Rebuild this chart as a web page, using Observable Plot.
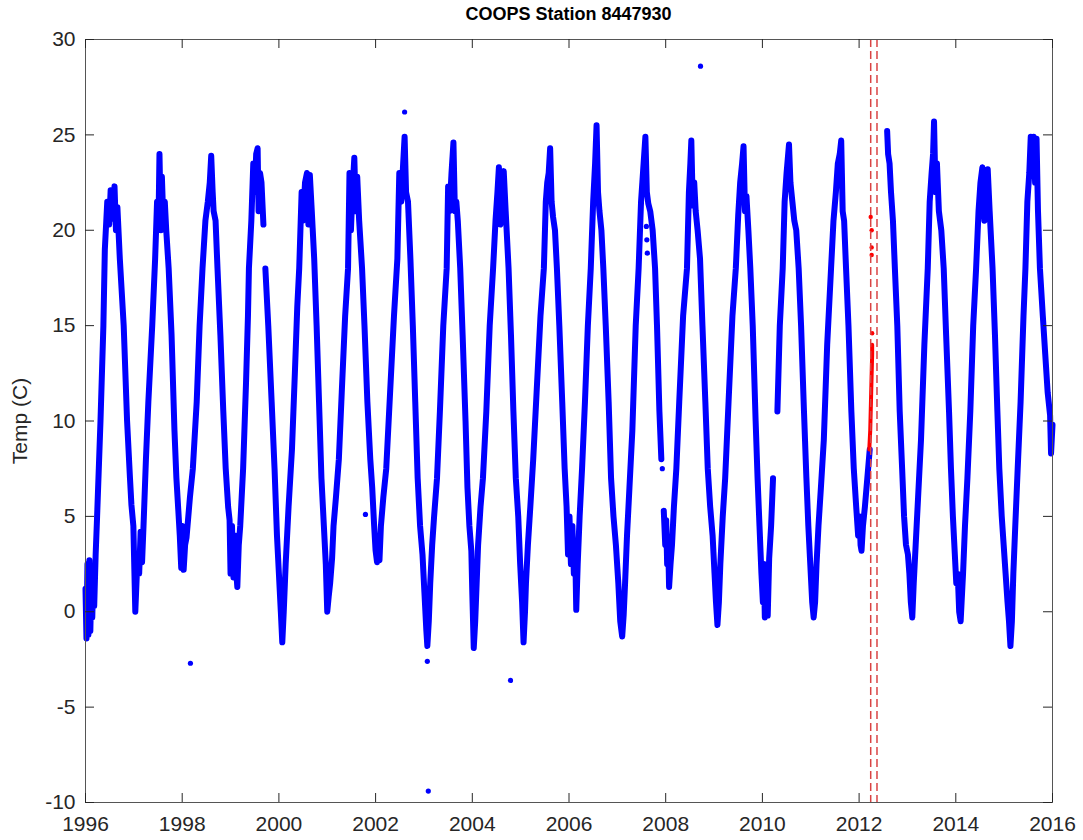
<!DOCTYPE html>
<html><head><meta charset="utf-8">
<script src="https://cdn.jsdelivr.net/npm/d3@7"></script>
<script src="https://cdn.jsdelivr.net/npm/@observablehq/plot@0.6"></script>
<style>
body{margin:0;background:#fff;font-family:"Liberation Sans",Arial,sans-serif;}
#title{width:1083px;box-sizing:border-box;padding-left:85px;padding-right:31px;height:30px;text-align:center;font-weight:bold;font-size:18px;line-height:28px;color:#000;}
</style></head><body>
<div id="title">COOPS Station 8447930</div>
<div id="chart"></div>
<script>
// Hourly water temperature readings (decimal year, °C); null = data gap
const blueReadings = [
[1996.00,1.2],[1996.02,-1.4],[1996.04,2.5],[1996.06,-1.2],[1996.08,2.7],[1996.10,-1.0],[1996.12,1.5],[1996.14,-0.3],[1996.16,1.8],[1996.18,0.3],[1996.21,3.0],[1996.24,5.0],[1996.31,10.0],[1996.37,15.0],
[1996.40,19.0],[1996.45,21.5],[1996.49,20.3],[1996.52,22.1],[1996.56,20.6],[1996.60,22.3],[1996.63,20.0],[1996.66,21.2],[1996.71,18.5],
[1996.79,15.0],[1996.86,10.0],[1996.92,7.0],[1996.95,5.6],[1996.99,4.5],[1997.03,0.0],[1997.07,2.5],[1997.11,2.0],[1997.14,4.2],[1997.17,2.6],[1997.20,4.5],[1997.25,8.0],[1997.30,11.0],[1997.38,15.0],
[1997.44,18.5],[1997.48,21.5],[1997.51,20.5],[1997.53,24.0],[1997.56,20.0],[1997.58,22.8],[1997.61,20.5],[1997.64,21.5],[1997.67,20.0],[1997.72,18.0],
[1997.78,14.5],[1997.84,9.5],[1997.88,7.0],[1997.92,5.3],[1997.95,4.0],[1997.98,2.3],[1998.00,4.5],[1998.03,2.2],[1998.06,3.5],[1998.09,3.9],[1998.12,4.8],[1998.16,6.0],[1998.22,7.5],[1998.30,11.0],[1998.36,15.0],
[1998.42,18.0],[1998.48,20.5],[1998.53,21.5],[1998.57,22.5],[1998.60,23.9],[1998.63,22.0],[1998.65,21.0],[1998.69,20.5],[1998.73,18.0],
[1998.79,14.5],[1998.85,10.5],[1998.90,7.5],[1998.95,5.5],[1998.98,4.8],[1999.00,2.0],[1999.03,4.5],[1999.06,1.8],[1999.09,4.0],[1999.12,2.0],[1999.14,1.3],[1999.17,3.5],[1999.20,4.5],[1999.26,7.5],[1999.32,12.0],[1999.36,15.5],
[1999.38,18.0],[1999.43,20.5],[1999.47,23.5],[1999.50,22.0],[1999.53,24.0],[1999.56,24.3],[1999.58,21.0],[1999.61,23.0],[1999.64,22.5],[1999.68,20.3],null,[1999.72,18.0],
[1999.78,15.0],[1999.85,11.0],[1999.91,7.5],[1999.96,4.0],[2000.00,2.0],[2000.04,0.0],[2000.07,-1.6],[2000.10,0.0],[2000.14,2.5],[2000.20,5.5],[2000.27,8.5],[2000.33,12.5],[2000.38,16.0],
[2000.42,18.0],[2000.47,22.0],[2000.50,20.5],[2000.54,22.5],[2000.58,23.0],[2000.61,20.3],[2000.64,22.9],[2000.68,21.0],[2000.73,18.5],
[2000.78,15.0],[2000.83,11.0],[2000.88,7.0],[2000.93,4.5],[2000.97,2.5],[2001.00,0.0],[2001.03,0.8],[2001.06,1.5],[2001.10,2.8],[2001.13,4.5],[2001.18,6.0],[2001.24,8.0],[2001.30,11.5],[2001.37,15.5],
[2001.43,18.0],[2001.46,23.0],[2001.49,20.0],[2001.52,22.0],[2001.56,23.8],[2001.59,21.0],[2001.62,22.8],[2001.66,20.5],[2001.72,18.0],
[2001.77,15.0],[2001.83,11.0],[2001.89,8.0],[2001.93,6.5],[2001.97,4.5],[2002.00,3.2],[2002.03,2.6],[2002.06,3.5],[2002.08,2.7],[2002.11,4.5],[2002.16,6.0],[2002.22,7.5],[2002.30,11.5],[2002.38,15.5],
[2002.45,18.5],[2002.49,23.0],[2002.53,21.5],[2002.57,23.5],[2002.60,24.9],[2002.63,22.0],[2002.67,21.5],[2002.72,18.5],
[2002.77,15.0],[2002.82,11.0],[2002.87,7.0],[2002.92,4.5],[2002.97,3.0],[2003.01,1.0],[2003.05,-1.0],[2003.07,-1.8],[2003.10,-0.5],[2003.13,1.5],[2003.17,3.5],[2003.21,5.0],[2003.27,7.0],[2003.33,10.5],[2003.40,15.0],
[2003.47,18.0],[2003.50,22.3],[2003.53,21.0],[2003.57,23.0],[2003.61,24.6],[2003.64,21.0],[2003.67,21.5],[2003.70,20.5],[2003.75,18.0],
[2003.80,14.5],[2003.86,10.0],[2003.90,6.5],[2003.94,4.5],[2003.98,3.2],[2004.00,1.0],[2004.03,-1.9],[2004.06,-0.5],[2004.09,1.5],[2004.12,3.5],[2004.17,5.5],[2004.22,7.0],[2004.29,10.5],[2004.36,15.0],
[2004.43,18.0],[2004.48,20.5],[2004.52,22.0],[2004.55,23.3],[2004.58,20.3],[2004.62,22.5],[2004.65,23.1],[2004.69,21.0],[2004.75,18.0],
[2004.80,14.5],[2004.85,10.5],[2004.90,7.0],[2004.95,5.0],[2004.99,2.5],[2005.03,0.5],[2005.06,-1.6],[2005.09,0.0],[2005.11,1.5],[2005.15,3.5],[2005.20,5.5],[2005.26,8.0],[2005.33,11.5],[2005.41,15.5],
[2005.48,18.0],[2005.52,21.5],[2005.55,22.5],[2005.58,23.0],[2005.61,24.3],[2005.64,21.5],[2005.67,20.7],[2005.71,20.0],[2005.75,18.0],
[2005.80,15.0],[2005.86,11.0],[2005.91,7.5],[2005.95,5.5],[2005.98,3.0],[2006.01,5.0],[2006.04,2.5],[2006.07,4.5],[2006.10,2.0],[2006.13,3.0],[2006.15,0.1],[2006.18,2.5],[2006.22,5.0],[2006.27,7.5],[2006.33,11.0],[2006.39,15.0],
[2006.45,18.0],[2006.50,21.5],[2006.54,23.5],[2006.57,25.5],[2006.60,22.0],[2006.63,21.0],[2006.67,20.0],[2006.71,18.0],
[2006.76,15.0],[2006.82,11.0],[2006.87,7.0],[2006.92,5.0],[2006.97,3.5],[2007.02,1.5],[2007.06,-0.5],[2007.10,-1.3],[2007.13,-0.2],[2007.16,1.5],[2007.20,4.0],[2007.25,6.5],[2007.31,9.5],[2007.38,15.0],
[2007.44,18.0],[2007.49,21.5],[2007.53,23.0],[2007.58,24.9],[2007.61,22.0],[2007.64,21.4],[2007.68,21.0],[2007.73,20.0],[2007.78,18.0],
[2007.82,15.0],[2007.87,10.5],[2007.91,8.0],null,[2007.96,5.3],[2007.99,3.5],[2008.01,4.8],[2008.03,2.5],[2008.05,3.8],[2008.07,1.3],[2008.10,2.5],[2008.13,3.5],[2008.17,5.5],[2008.22,7.5],[2008.28,11.0],[2008.36,15.5],
[2008.44,18.0],[2008.48,22.0],[2008.51,23.5],[2008.53,24.7],[2008.56,21.3],[2008.59,22.5],[2008.62,21.0],[2008.66,20.0],[2008.71,18.5],
[2008.76,15.0],[2008.82,11.0],[2008.87,7.5],[2008.92,5.5],[2008.97,4.0],[2009.01,2.0],[2009.04,0.5],[2009.07,-0.7],[2009.10,0.5],[2009.13,2.5],[2009.18,5.0],[2009.23,7.0],[2009.30,11.0],[2009.38,15.5],
[2009.45,18.0],[2009.50,20.8],[2009.54,22.5],[2009.58,23.5],[2009.61,24.4],[2009.64,21.0],[2009.67,21.8],[2009.71,20.0],[2009.75,18.0],
[2009.80,15.0],[2009.86,10.0],[2009.90,7.0],[2009.94,4.5],[2009.98,2.0],[2010.01,0.5],[2010.03,2.5],[2010.05,-0.3],[2010.08,1.5],[2010.11,-0.2],[2010.14,2.8],[2010.18,4.5],[2010.22,7.0],null,[2010.31,10.5],[2010.36,15.0],
[2010.42,18.0],[2010.46,21.5],[2010.50,23.0],[2010.55,24.5],[2010.58,22.5],[2010.62,21.5],[2010.66,20.5],[2010.70,20.0],[2010.75,18.0],
[2010.80,15.0],[2010.86,10.5],[2010.91,7.0],[2010.95,4.5],[2010.99,2.5],[2011.03,0.5],[2011.06,-0.3],[2011.09,0.5],[2011.12,2.5],[2011.16,4.5],[2011.21,6.5],[2011.27,9.0],[2011.34,14.0],
[2011.42,18.0],[2011.47,20.5],[2011.52,22.0],[2011.56,23.5],[2011.60,24.0],[2011.63,24.7],[2011.66,21.0],[2011.69,20.5],[2011.73,18.0],
[2011.78,15.0],[2011.84,10.5],[2011.89,7.5],[2011.94,5.5],[2011.98,4.0],[2012.01,5.0],[2012.03,3.5],[2012.05,3.2],[2012.08,4.5],[2012.12,5.5],[2012.17,7.0],[2012.22,8.5],null,
[2012.58,25.2],[2012.60,24.0],[2012.63,23.5],[2012.66,22.0],[2012.70,20.5],[2012.74,18.0],[2012.79,15.0],[2012.84,10.5],[2012.89,7.5],[2012.93,5.0],[2012.97,3.5],[2013.01,3.0],[2013.04,2.0],[2013.07,0.5],[2013.10,-0.3],[2013.13,1.5],[2013.17,3.5],[2013.22,6.0],[2013.28,9.0],[2013.35,14.0],
[2013.42,18.0],[2013.46,21.5],[2013.50,23.0],[2013.53,24.0],[2013.55,25.7],[2013.58,22.0],[2013.61,23.5],[2013.65,21.0],[2013.70,20.0],[2013.75,18.0],
[2013.80,14.5],[2013.86,10.5],[2013.90,7.5],[2013.94,5.0],[2013.98,3.0],[2014.01,1.5],[2014.04,2.0],[2014.07,0.0],[2014.10,-0.5],[2014.12,0.5],[2014.15,2.0],[2014.19,4.5],[2014.24,7.0],[2014.30,10.5],[2014.36,15.0],
[2014.42,18.0],[2014.47,21.0],[2014.51,22.5],[2014.55,23.3],[2014.59,20.5],[2014.62,21.5],[2014.66,23.2],[2014.70,21.0],[2014.76,18.0],
[2014.81,14.5],[2014.86,10.5],[2014.90,7.5],[2014.95,5.0],[2014.99,3.5],[2015.03,2.0],[2015.07,0.5],[2015.10,-0.5],[2015.13,-1.8],[2015.16,-0.5],[2015.19,2.0],[2015.23,4.5],[2015.28,7.5],[2015.34,11.0],[2015.40,15.5],
[2015.44,18.0],[2015.48,21.5],[2015.52,23.0],[2015.55,24.9],[2015.58,23.0],[2015.61,24.9],[2015.64,22.5],[2015.67,24.8],[2015.70,21.0],[2015.74,18.0],
[2015.80,15.5],[2015.85,13.5],[2015.90,11.5],[2015.95,10.3],[2015.97,8.3],[2016.00,9.8]
];
// Isolated blue readings (spikes / stray points)
const blueOutliers = [[1998.17,-2.7],[2001.79,5.1],[2002.60,26.2],[2003.07,-2.6],[2003.09,-9.4],[2004.79,-3.6],[2007.60,20.2],[2007.61,19.5],[2007.62,18.8],[2007.93,7.5],[2008.72,28.6]];
// Flagged (red) readings inside the marked window
const redReadings = [[2012.21,8.5],[2012.23,9.5],[2012.24,10.5],[2012.25,11.5],[2012.26,12.5],[2012.27,13.5],[2012.27,14.0]];
const redDots = [[2012.27,14.6],[2012.24,20.7],[2012.26,20.0],[2012.26,19.1],[2012.26,18.7]];
// Window boundaries (dashed lines)
const flagLines = [2012.24, 2012.37];
const xTicks = [1996,1998,2000,2002,2004,2006,2008,2010,2012,2014,2016];
const yTicks = [-10,-5,0,5,10,15,20,25,30];

const toRows = arr => arr.map(p => p ? {year: p[0], temp: p[1]} : {year: NaN, temp: NaN});
const blue = toRows(blueReadings), red = toRows(redReadings);
const outl = toRows(blueOutliers), rdots = toRows(redDots);

const W = 1083, H = 810, mt = 9, mb = 38, ml = 85, mr = 31;
const innerW = W - ml - mr, innerH = H - mt - mb, tickLen = 9;
const axisColor = "#262626";

const chart = Plot.plot({
  width: W, height: H, marginTop: mt, marginBottom: mb, marginLeft: ml, marginRight: mr,
  style: {fontFamily: "'Liberation Sans', Arial, sans-serif", fontSize: "21px", color: axisColor, background: "#fff", overflow: "visible"},
  x: {domain: [1996, 2016]},
  y: {domain: [-10, 30]},
  marks: [
    Plot.line(blue, {x: "year", y: "temp", stroke: "#0000ff", strokeWidth: 6, strokeLinejoin: "round", strokeLinecap: "round"}),
    Plot.dot(outl, {x: "year", y: "temp", fill: "#0000ff", r: 2.6}),
    Plot.line(red, {x: "year", y: "temp", stroke: "#ff0000", strokeWidth: 4, strokeLinejoin: "round", strokeLinecap: "round"}),
    Plot.dot(rdots, {x: "year", y: "temp", fill: "#ff0000", r: 2.2}),
    Plot.ruleX(flagLines, {x: d => d, stroke: "#d94444", strokeWidth: 1.5, strokeDasharray: "8,4"}),
    Plot.frame({stroke: "#555", strokeWidth: 1}),
    Plot.tickX(xTicks, {x: d => d, insetTop: innerH - tickLen, stroke: axisColor}),
    Plot.tickX(xTicks, {x: d => d, insetBottom: innerH - tickLen, stroke: axisColor}),
    Plot.tickY(yTicks, {y: d => d, insetRight: innerW - tickLen, stroke: axisColor}),
    Plot.tickY(yTicks, {y: d => d, insetLeft: innerW - tickLen, stroke: axisColor}),
    Plot.axisX({ticks: xTicks, tickSize: 0, tickPadding: 14, tickFormat: d => String(d), label: null, fontSize: 21}),
    Plot.axisY({ticks: yTicks, tickSize: 0, tickPadding: 10, tickFormat: d => String(d), label: null, fontSize: 21}),
    Plot.text(["Temp (C)"], {frameAnchor: "left", textAnchor: "middle", rotate: -90, dx: -65, fontSize: 21, fill: axisColor})
  ]
});
document.getElementById("chart").appendChild(chart);
</script>
</body></html>
